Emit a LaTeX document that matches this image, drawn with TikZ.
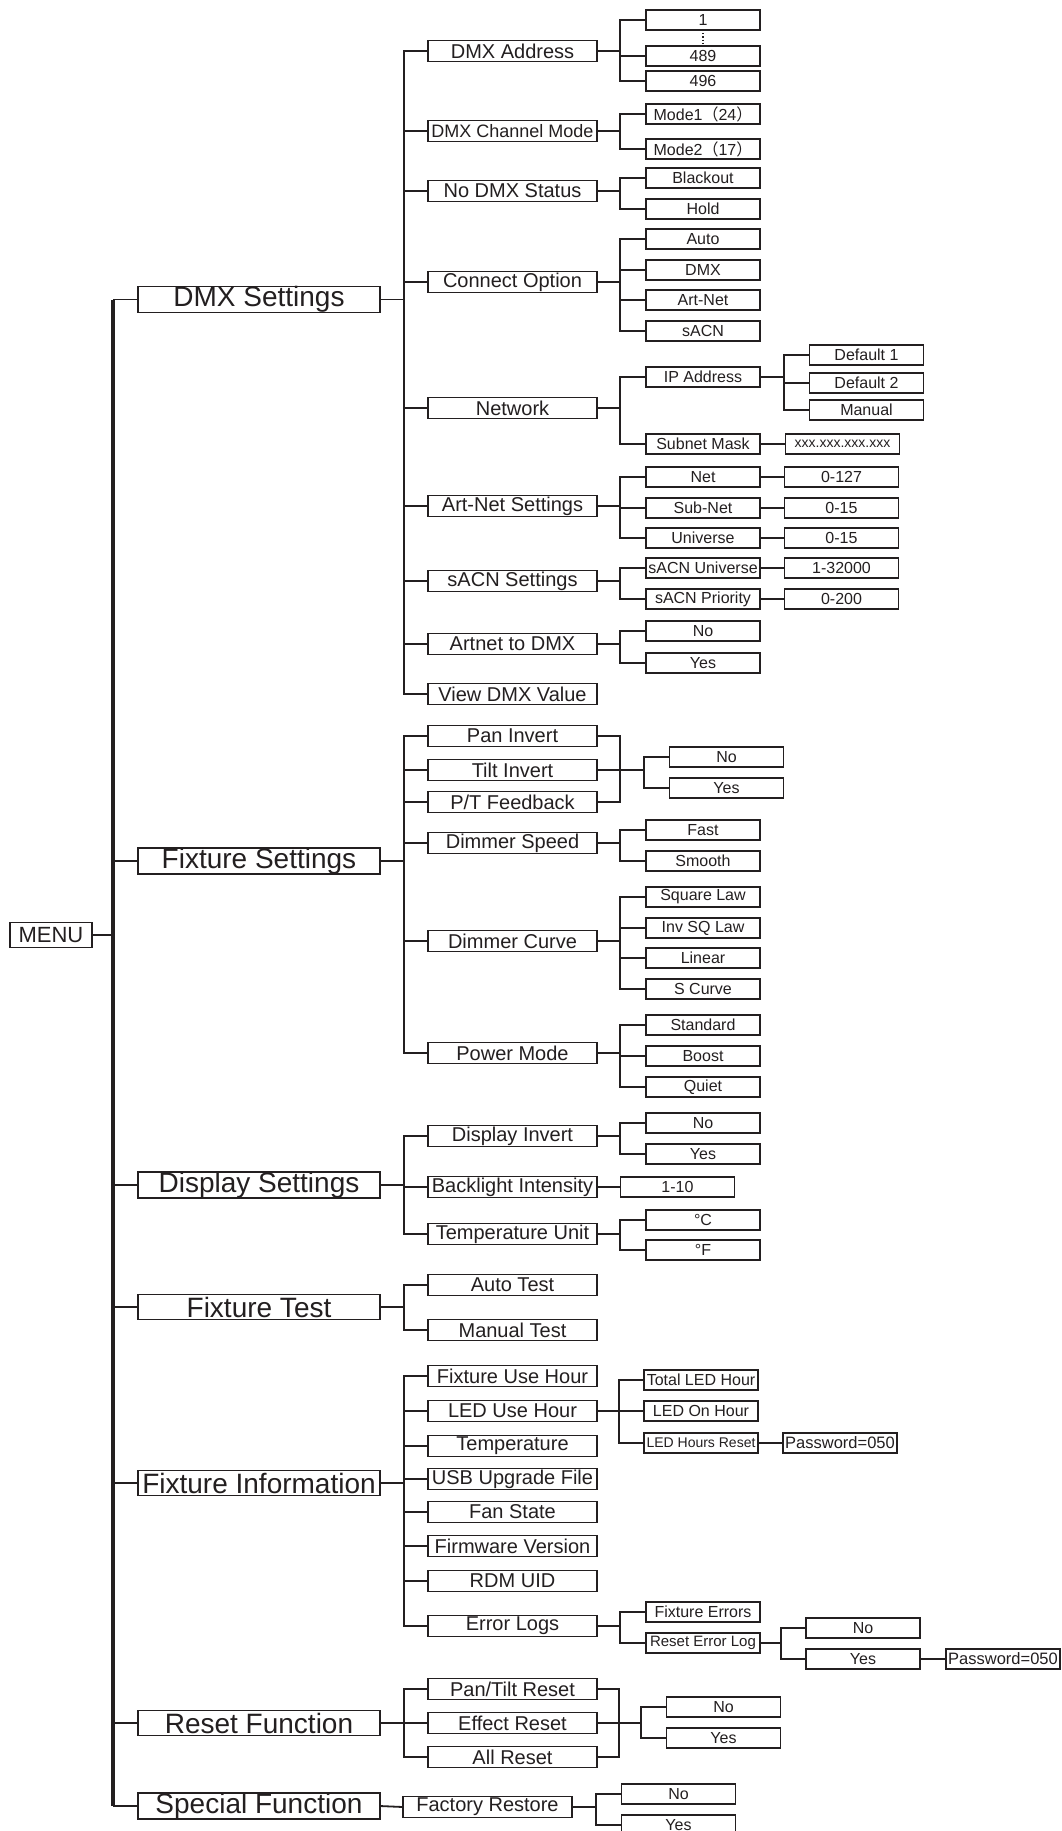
\documentclass[tikz,border=0pt]{standalone}
\usepackage{fontspec}
\setmainfont{Liberation Sans}
\newfontfamily\cjk{Noto Sans CJK SC}
\usetikzlibrary{positioning,calc}
\definecolor{ink}{HTML}{231F20}
\tikzset{
  box/.style={draw=ink, text=ink, line width=1.2pt, inner sep=0pt, outer sep=0pt, fill=white},
  top/.style={box, minimum width=82pt, minimum height=25pt, font=\fontsize{22}{26}\selectfont},
  lvone/.style={box, minimum width=242pt, minimum height=25pt, font=\fontsize{28}{31}\selectfont},
  lvtwo/.style={box, minimum width=169pt, minimum height=21pt, font=\fontsize{20}{24}\selectfont},
  lvthree/.style={box, minimum width=114pt, minimum height=20pt, font=\fontsize{16}{19}\selectfont},
  wire/.style={draw=ink, line width=1.8pt},
  trunk/.style={draw=ink, line width=3.3pt},
}

\begin{document}
\begin{tikzpicture}[x=1pt,y=-1pt]
    \useasboundingbox (0,0) rectangle (1062,1831);

    % root and main branches
    \node[top] (menu) at (51,935) {MENU};
    \node[lvone] (dmx) at (259,299.5) {DMX Settings};
    \node[lvone] (fixset) at (259,861) {Fixture Settings};
    \node[lvone] (disp) at (259,1185) {Display Settings};
    \node[lvone] (test) at (259,1307) {Fixture Test};
    \node[lvone] (info) at (259,1483) {Fixture Information};
    \node[lvone] (reset) at (259,1723) {Reset Function};
    \node[lvone] (special) at (259,1806) {Special Function};

    \draw[wire] (menu.east) -- ++(21,0);
    \draw[trunk] ([xshift=-25pt]dmx.west) -- ([xshift=-25pt]special.west);
    \foreach \n in {dmx,fixset,disp,test,info,reset,special}
        \draw[wire] (\n.west) -- ++(-25,0);

    % DMX Settings
    \node[lvtwo] (addr) at (512.5,51) {DMX Address};
    \node[lvtwo, font=\fontsize{18}{21}\selectfont] (chmode) at (512.5,131) {DMX Channel Mode};
    \node[lvtwo] (nodmx) at (512.5,191) {No DMX Status};
    \node[lvtwo] (conn) at (512.5,282) {Connect Option};
    \node[lvtwo] (net) at (512.5,408) {Network};
    \node[lvtwo] (artset) at (512.5,506) {Art-Net Settings};
    \node[lvtwo] (sacnset) at (512.5,581) {sACN Settings};
    \node[lvtwo] (atod) at (512.5,644) {Artnet to DMX};
    \node[lvtwo] (view) at (512.5,694) {View DMX Value};
    \foreach \c in {addr,chmode,nodmx,conn,net,artset,sacnset,atod,view}
        \draw[wire] (dmx.east) -- ++(24,0) |- (\c.west);

    \node[lvthree] (aone) at (703,20) {1};
    \node[lvthree] (afour) at (703,56) {489};
    \node[lvthree] (alast) at (703,81) {496};
    \draw[ink, line width=1.2pt, dotted] (aone.south) -- (afour.north);
    \foreach \c in {aone,afour,alast}
        \draw[wire] (addr.east) -- ++(23,0) |- (\c.west);

    \node[lvthree] (modea) at (703,114) {Mode1{\cjk （}24{\cjk ）}};
    \node[lvthree] (modeb) at (703,149) {Mode2{\cjk （}17{\cjk ）}};
    \foreach \c in {modea,modeb}
        \draw[wire] (chmode.east) -- ++(23,0) |- (\c.west);

    \node[lvthree] (black) at (703,178) {Blackout};
    \node[lvthree] (hold) at (703,209) {Hold};
    \foreach \c in {black,hold}
        \draw[wire] (nodmx.east) -- ++(23,0) |- (\c.west);

    \node[lvthree] (cauto) at (703,239) {Auto};
    \node[lvthree] (cdmx) at (703,270) {DMX};
    \node[lvthree] (cart) at (703,300) {Art-Net};
    \node[lvthree] (csacn) at (703,331) {sACN};
    \foreach \c in {cauto,cdmx,cart,csacn}
        \draw[wire] (conn.east) -- ++(23,0) |- (\c.west);

    \node[lvthree] (ip) at (703,377) {IP Address};
    \node[lvthree] (mask) at (703,444) {Subnet Mask};
    \foreach \c in {ip,mask}
        \draw[wire] (net.east) -- ++(23,0) |- (\c.west);
    \node[lvthree] (ipa) at (866.5,355) {Default 1};
    \node[lvthree] (ipb) at (866.5,383) {Default 2};
    \node[lvthree] (ipc) at (866.5,410) {Manual};
    \foreach \c in {ipa,ipb,ipc}
        \draw[wire] (ip.east) -- ++(24,0) |- (\c.west);
    \node[lvthree, font=\fontsize{14}{17}\selectfont] (maskval) at (842.5,444) {xxx.xxx.xxx.xxx};
    \draw[wire] (mask.east) -- (maskval.west);

    \node[lvthree] (anet) at (703,477) {Net};
    \node[lvthree] (asub) at (703,508) {Sub-Net};
    \node[lvthree] (auni) at (703,538) {Universe};
    \foreach \c in {anet,asub,auni}
        \draw[wire] (artset.east) -- ++(23,0) |- (\c.west);
    \node[lvthree] (anetv) at (841.5,477) {0-127};
    \node[lvthree] (asubv) at (841.5,508) {0-15};
    \node[lvthree] (auniv) at (841.5,538) {0-15};
    \draw[wire] (anet.east) -- (anetv.west);
    \draw[wire] (asub.east) -- (asubv.west);
    \draw[wire] (auni.east) -- (auniv.west);

    \node[lvthree] (suni) at (703,568) {sACN Universe};
    \node[lvthree] (sprio) at (703,599) {sACN Priority};
    \foreach \c in {suni,sprio}
        \draw[wire] (sacnset.east) -- ++(23,0) |- (\c.west);
    \node[lvthree] (suniv) at (841.5,568) {1-32000};
    \node[lvthree] (sprov) at (841.5,599) {0-200};
    \draw[wire] (suni.east) -- (suniv.west);
    \draw[wire] (sprio.east) -- (sprov.west);

    \node[lvthree] (atodno) at (703,631) {No};
    \node[lvthree] (atodyes) at (703,663) {Yes};
    \foreach \c in {atodno,atodyes}
        \draw[wire] (atod.east) -- ++(23,0) |- (\c.west);

    % Fixture Settings
    \node[lvtwo] (pan) at (512.5,736) {Pan Invert};
    \node[lvtwo] (tilt) at (512.5,770) {Tilt Invert};
    \node[lvtwo] (ptfb) at (512.5,802) {P/T Feedback};
    \node[lvtwo] (dspeed) at (512.5,843) {Dimmer Speed};
    \node[lvtwo] (dcurve) at (512.5,941) {Dimmer Curve};
    \node[lvtwo] (power) at (512.5,1053) {Power Mode};
    \foreach \c in {pan,tilt,ptfb,dspeed,dcurve,power}
        \draw[wire] (fixset.east) -- ++(24,0) |- (\c.west);

    \node[lvthree] (fsno) at (726.5,757) {No};
    \node[lvthree] (fsyes) at (726.5,788) {Yes};
    \draw[wire] (pan.east) -- ++(23,0) |- (ptfb.east);
    \foreach \c in {fsno,fsyes}
        \draw[wire] (tilt.east) -- ++(47,0) |- (\c.west);

    \node[lvthree] (fast) at (703,830) {Fast};
    \node[lvthree] (smooth) at (703,861) {Smooth};
    \foreach \c in {fast,smooth}
        \draw[wire] (dspeed.east) -- ++(23,0) |- (\c.west);

    \node[lvthree] (sqlaw) at (703,897) {Square Law};
    \node[lvthree] (invsq) at (703,928) {Inv SQ Law};
    \node[lvthree] (linear) at (703,958) {Linear};
    \node[lvthree] (scurve) at (703,989) {S Curve};
    \foreach \c in {sqlaw,invsq,linear,scurve}
        \draw[wire] (dcurve.east) -- ++(23,0) |- (\c.west);

    \node[lvthree] (std) at (703,1025) {Standard};
    \node[lvthree] (boost) at (703,1056) {Boost};
    \node[lvthree] (quiet) at (703,1087) {Quiet};
    \foreach \c in {std,boost,quiet}
        \draw[wire] (power.east) -- ++(23,0) |- (\c.west);

    % Display Settings
    \node[lvtwo] (dinv) at (512.5,1136) {Display Invert};
    \node[lvtwo] (blight) at (512.5,1187) {Backlight Intensity};
    \node[lvtwo] (tunit) at (512.5,1234) {Temperature Unit};
    \foreach \c in {dinv,blight,tunit}
        \draw[wire] (disp.east) -- ++(24,0) |- (\c.west);

    \node[lvthree] (dno) at (703,1123) {No};
    \node[lvthree] (dyes) at (703,1154) {Yes};
    \foreach \c in {dno,dyes}
        \draw[wire] (dinv.east) -- ++(23,0) |- (\c.west);
    \node[lvthree] (blval) at (677.5,1187) {1-10};
    \draw[wire] (blight.east) -- (blval.west);
    \node[lvthree] (degc) at (703,1220) {°C};
    \node[lvthree] (degf) at (703,1250) {°F};
    \foreach \c in {degc,degf}
        \draw[wire] (tunit.east) -- ++(23,0) |- (\c.west);

    % Fixture Test
    \node[lvtwo] (autot) at (512.5,1285) {Auto Test};
    \node[lvtwo] (mant) at (512.5,1330) {Manual Test};
    \foreach \c in {autot,mant}
        \draw[wire] (test.east) -- ++(24,0) |- (\c.west);

    % Fixture Information
    \node[lvtwo] (fuh) at (512.5,1376) {Fixture Use Hour};
    \node[lvtwo] (luh) at (512.5,1411) {LED Use Hour};
    \node[lvtwo] (temp) at (512.5,1446) {Temperature};
    \node[lvtwo] (usb) at (512.5,1479) {USB Upgrade File};
    \node[lvtwo] (fan) at (512.5,1512) {Fan State};
    \node[lvtwo] (fw) at (512.5,1546) {Firmware Version};
    \node[lvtwo] (rdm) at (512.5,1581) {RDM UID};
    \node[lvtwo] (elog) at (512.5,1626) {Error Logs};
    \foreach \c in {fuh,luh,temp,usb,fan,fw,rdm,elog}
        \draw[wire] (info.east) -- ++(24,0) |- (\c.west);

    \node[lvthree] (tlh) at (701,1380) {Total LED Hour};
    \node[lvthree] (loh) at (701,1411) {LED On Hour};
    \node[lvthree, font=\fontsize{14}{17}\selectfont] (lhr) at (701,1443) {LED Hours Reset};
    \foreach \c in {tlh,loh,lhr}
        \draw[wire] (luh.east) -- ++(22,0) |- (\c.west);
    \node[lvthree, font=\fontsize{16.5}{19}\selectfont] (pwa) at (840,1443) {Password=050};
    \draw[wire] (lhr.east) -- (pwa.west);

    \node[lvthree] (ferr) at (703,1612) {Fixture Errors};
    \node[lvthree, font=\fontsize{15}{18}\selectfont] (rel) at (703,1643) {Reset Error Log};
    \foreach \c in {ferr,rel}
        \draw[wire] (elog.east) -- ++(23,0) |- (\c.west);
    \node[lvthree] (relno) at (863,1628) {No};
    \node[lvthree] (relyes) at (863,1659) {Yes};
    \foreach \c in {relno,relyes}
        \draw[wire] (rel.east) -- ++(21,0) |- (\c.west);
    \node[lvthree, font=\fontsize{16.5}{19}\selectfont] (pwb) at (1003,1659) {Password=050};
    \draw[wire] (relyes.east) -- (pwb.west);

    % Reset Function
    \node[lvtwo] (ptr) at (512.5,1689) {Pan/Tilt Reset};
    \node[lvtwo] (effr) at (512.5,1723) {Effect Reset};
    \node[lvtwo] (allr) at (512.5,1757) {All Reset};
    \foreach \c in {ptr,effr,allr}
        \draw[wire] (reset.east) -- ++(24,0) |- (\c.west);
    \node[lvthree] (rno) at (723.5,1707) {No};
    \node[lvthree] (ryes) at (723.5,1738) {Yes};
    \draw[wire] (ptr.east) -- ++(22,0) |- (allr.east);
    \foreach \c in {rno,ryes}
        \draw[wire] (effr.east) -- ++(44,0) |- (\c.west);

    % Special Function
    \node[lvtwo] (frest) at (487.5,1807) {Factory Restore};
    \draw[wire] (special.east) -- (frest.west);
    \node[lvthree] (sno) at (678.5,1794) {No};
    \node[lvthree] (syes) at (678.5,1825) {Yes};
    \foreach \c in {sno,syes}
        \draw[wire] (frest.east) -- ++(24,0) |- (\c.west);
\end{tikzpicture}
\end{document}
